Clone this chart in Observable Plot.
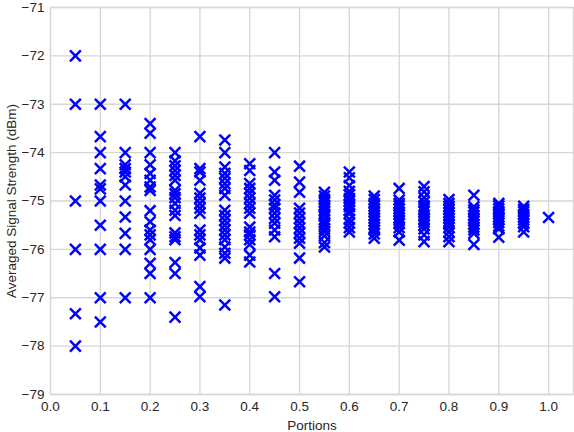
<!DOCTYPE html>
<html>
<head>
<meta charset="utf-8">
<script src="https://cdn.jsdelivr.net/npm/d3@7"></script>
<script src="https://cdn.jsdelivr.net/npm/@observablehq/plot@0.6"></script>
<style>
  html, body { margin: 0; padding: 0; background: #fff; }
  #chart svg { display: block; }
</style>
</head>
<body>
<div id="chart"></div>
<script>
const portions = [0.05, 0.1, 0.15, 0.2, 0.25, 0.3, 0.35, 0.4, 0.45, 0.5, 0.55, 0.6, 0.65, 0.7, 0.75, 0.8, 0.85, 0.9, 0.95, 1.0];

const p05 = [-72, -73, -75, -76, -77.33, -78];
const p10 = [-73, -73.67, -74, -74.33, -74.67, -74.75, -75, -75.5, -76, -77, -77.5];
const p15 = [-73, -74, -74.25, -74.33, -74.4, -74.5, -74.67, -75, -75.33, -75.67, -76, -77];
const p20 = [-73.4, -73.6, -74, -74.25, -74.43, -74.57, -74.71, -74.78, -75.2, -75.43, -75.6, -75.7, -75.8, -76, -76.29, -76.5, -77];
const p25 = [-74, -74.17, -74.27, -74.37, -74.47, -74.57, -74.78, -74.85, -74.93, -75.05, -75.19, -75.3, -75.66, -75.74, -75.8, -76.27, -76.5, -77.4];
const p30 = [-73.67, -74.33, -74.4, -74.57, -74.84, -74.94, -75.05, -75.15, -75.25, -75.6, -75.7, -75.8, -75.97, -76.12, -76.77, -76.98];
const p35 = [-73.74, -74, -74.3, -74.43, -74.53, -74.64, -74.74, -74.88, -75.19, -75.3, -75.4, -75.5, -75.6, -75.7, -75.8, -75.95, -76.08, -76.18, -77.15];
const p40 = [-74.23, -74.37, -74.64, -74.74, -74.84, -74.94, -75.05, -75.15, -75.25, -75.54, -75.64, -75.7, -75.8, -75.9, -76.12, -76.26];
const p45 = [-74, -74.4, -74.57, -74.88, -74.98, -75.08, -75.15, -75.25, -75.36, -75.46, -75.6, -75.74, -76.5, -76.98];
const p50 = [-74.28, -74.61, -74.82, -75.15, -75.25, -75.36, -75.46, -75.56, -75.66, -75.77, -75.87, -76.18, -76.67];
const p55 = [-74.82, -74.9, -74.97, -75.03, -75.1, -75.14, -75.21, -75.27, -75.3, -75.38, -75.45, -75.5, -75.58, -75.63, -75.72, -75.86, -75.95];
const p60 = [-74.4, -74.52, -74.68, -74.8, -74.87, -74.95, -75.0, -75.08, -75.12, -75.2, -75.26, -75.38, -75.46, -75.55, -75.64];
const p65 = [-74.9, -74.97, -75.05, -75.1, -75.17, -75.22, -75.3, -75.35, -75.42, -75.48, -75.55, -75.6, -75.68, -75.77];
const p70 = [-74.74, -74.98, -75.05, -75.1, -75.16, -75.23, -75.28, -75.35, -75.4, -75.47, -75.55, -75.64, -75.81];
const p75 = [-74.7, -74.81, -74.93, -75.02, -75.1, -75.16, -75.22, -75.3, -75.37, -75.44, -75.5, -75.58, -75.7, -75.84];
const p80 = [-74.97, -75.05, -75.11, -75.18, -75.24, -75.3, -75.35, -75.42, -75.48, -75.55, -75.64, -75.74, -75.84];
const p85 = [-74.88, -75.12, -75.18, -75.23, -75.3, -75.36, -75.41, -75.48, -75.54, -75.6, -75.67, -75.9];
const p90 = [-75.05, -75.1, -75.16, -75.22, -75.27, -75.33, -75.38, -75.45, -75.52, -75.58, -75.75];
const p95 = [-75.11, -75.17, -75.22, -75.28, -75.33, -75.39, -75.46, -75.53, -75.64];
const p100 = [-75.34];

const xTicks = [0, 0.1, 0.2, 0.3, 0.4, 0.5, 0.6, 0.7, 0.8, 0.9, 1.0];
const yTicks = [-79, -78, -77, -76, -75, -74, -73, -72, -71];

const columns = [p05, p10, p15, p20, p25, p30, p35, p40, p45, p50, p55, p60, p65, p70, p75, p80, p85, p90, p95, p100];
const data = columns.flatMap((vals, i) => vals.map(v => ({portion: portions[i], signal: v})));

const gridColor = "#d6d6d6";
const textColor = "#262626";

const chart = Plot.plot({
  width: 574,
  height: 432,
  marginLeft: 50,
  marginRight: 1,
  marginTop: 7,
  marginBottom: 38,
  style: {fontFamily: "'Liberation Sans', Arial, sans-serif", fontSize: "13.5px", color: textColor, background: "#fff"},
  x: {domain: [0, 1.05]},
  y: {domain: [-79, -71]},
  marks: [
    Plot.gridX(xTicks, {stroke: gridColor, strokeOpacity: 1, strokeWidth: 1.3}),
    Plot.gridY(yTicks, {stroke: gridColor, strokeOpacity: 1, strokeWidth: 1.3}),
    Plot.frame({stroke: gridColor, strokeWidth: 1.3}),
    Plot.axisX(xTicks, {tickSize: 0, tickPadding: 7, tickFormat: d3.format(".1f"), label: "Portions", labelAnchor: "center", labelArrow: "none", labelOffset: 35, fill: textColor}),
    Plot.axisY(yTicks, {tickSize: 0, tickPadding: 6, tickFormat: d3.format("d"), label: "Averaged Signal Strength (dBm)", labelAnchor: "center", labelArrow: "none", labelOffset: 44, fill: textColor}),
    Plot.dot(data, {x: "portion", y: "signal", symbol: "times", r: 5, stroke: "#0000ff", strokeWidth: 2.5})
  ]
});
document.getElementById("chart").appendChild(chart);
</script>
</body>
</html>
